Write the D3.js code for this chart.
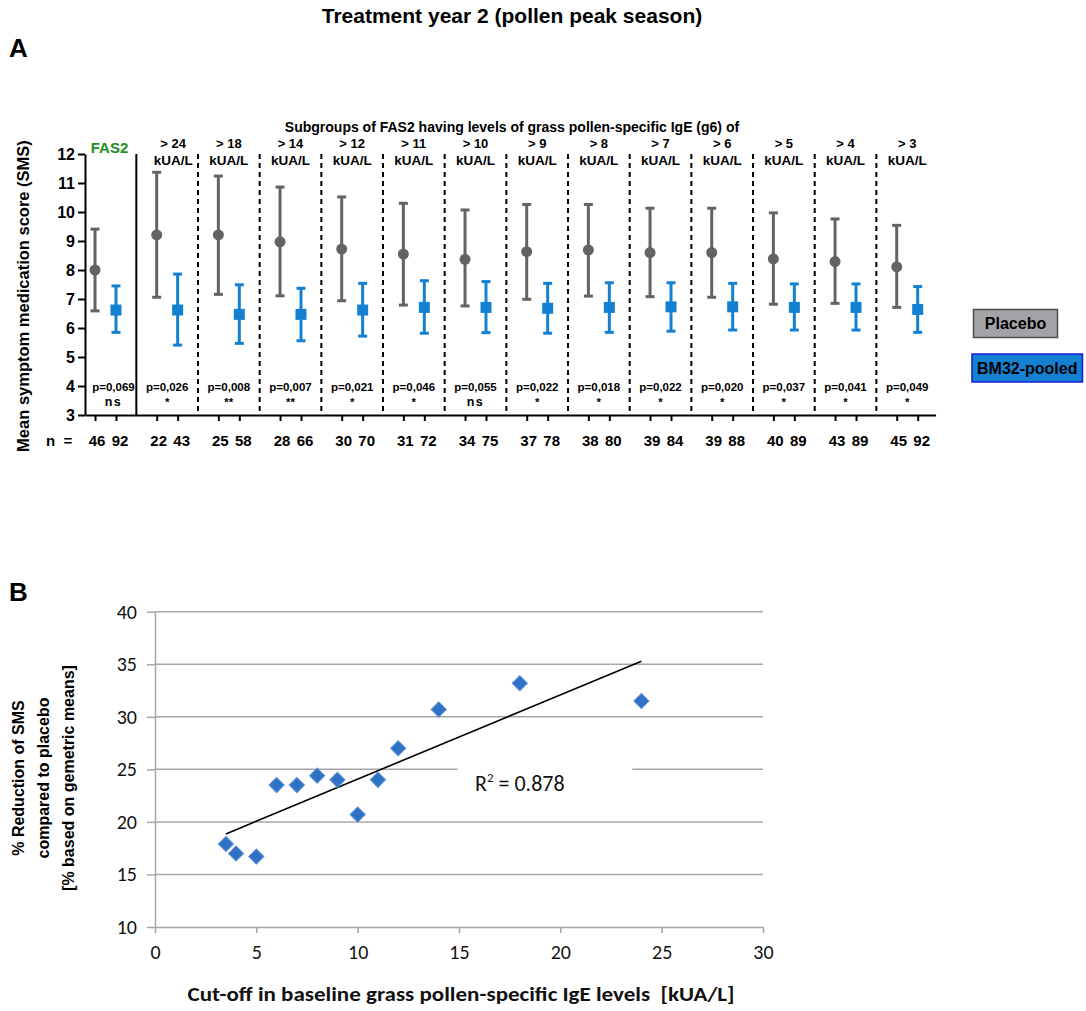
<!DOCTYPE html>
<html><head><meta charset="utf-8">
<script src="https://cdn.jsdelivr.net/npm/d3@7"></script>
<style>
body{margin:0;background:#fff;}
svg text{font-family:"Liberation Sans",Arial,sans-serif;}
.cal{font-family:Carlito,Calibri,Lato,"Open Sans",sans-serif !important;}
</style></head>
<body>
<svg id="c" width="1086" height="1011"></svg>
<script>
// ---------- Panel A data ----------
const groups = ["FAS2","> 24","> 18","> 14","> 12","> 11","> 10","> 9","> 8","> 7","> 6","> 5","> 4","> 3"];
const placeboMean = [8.00,9.21,9.21,8.97,8.72,8.55,8.37,8.63,8.69,8.60,8.60,8.38,8.29,8.11];
const placeboHigh = [9.41,11.37,11.24,10.86,10.52,10.30,10.07,10.26,10.26,10.13,10.13,9.97,9.76,9.54];
const placeboLow  = [6.59,7.06,7.16,7.11,6.94,6.79,6.76,6.99,7.10,7.08,7.06,6.82,6.85,6.71];
const bmMean = [6.62,6.62,6.47,6.47,6.62,6.71,6.71,6.68,6.71,6.73,6.73,6.71,6.71,6.64];
const bmHigh = [7.45,7.86,7.49,7.37,7.54,7.63,7.60,7.54,7.56,7.56,7.54,7.52,7.52,7.43];
const bmLow  = [5.85,5.41,5.47,5.56,5.72,5.82,5.84,5.82,5.85,5.89,5.93,5.93,5.93,5.85];
const pValues = ["p=0,069","p=0,026","p=0,008","p=0,007","p=0,021","p=0,046","p=0,055","p=0,022","p=0,018","p=0,022","p=0,020","p=0,037","p=0,041","p=0,049"];
const signif = ["ns","*","**","**","*","*","ns","*","*","*","*","*","*","*"];
const nPlacebo = [46,22,25,28,30,31,34,37,38,39,39,40,43,45];
const nBM = [92,43,58,66,70,72,75,78,80,84,88,89,89,92];
const yTicksA = [3,4,5,6,7,8,9,10,11,12];
const legendLabels = ["Placebo","BM32-pooled"];

// ---------- Panel B data ----------
const cutoff = [3.5,4,5,6,7,8,9,10,11,12,14,18,24];
const reduction = [17.9,17.0,16.7,23.5,23.5,24.4,24.0,20.7,24.0,27.0,30.7,33.2,31.5];
const xTicksB = [0,5,10,15,20,25,30];
const yTicksB = [10,15,20,25,30,35,40];

const GRAY = "#636363", BLUE = "#1380d2";
const svg = d3.select("#c");

// Title & panel letters
svg.append("text").attr("x",512).attr("y",23).attr("text-anchor","middle")
  .attr("font-size",21).attr("font-weight","bold").text("Treatment year 2 (pollen peak season)");
svg.append("text").attr("x",9).attr("y",57).attr("font-size",26).attr("font-weight","bold").text("A");
svg.append("text").attr("x",9).attr("y",601).attr("font-size",26).attr("font-weight","bold").text("B");

// ---------- Panel A ----------
const xA = d3.scaleLinear().domain([0,13]).range([105.5,907.2]);
const yA = d3.scaleLinear().domain([3,12]).range([415,154]);
const off = 0.17;
const gA = svg.append("g");

// y axis
const yAx = gA.append("g").attr("transform","translate(85,0)")
  .call(d3.axisLeft(yA).tickValues(yTicksA).tickSize(7).tickSizeOuter(0).tickPadding(3));
yAx.selectAll("path,line").attr("stroke","#000").attr("stroke-width",2);
yAx.selectAll("text").attr("font-size",16).attr("font-weight","bold").attr("fill","#000")
  .attr("font-family","Liberation Sans, Arial, sans-serif");

// x axis
const xAxScale = d3.scaleLinear().domain([-0.33,13.46]).range([xA(-0.33),xA(13.46)]);
const tickPos = [];
groups.forEach((g,i)=>{tickPos.push(i-off); tickPos.push(i+off);});
const xAx = gA.append("g").attr("transform","translate(0,415)")
  .call(d3.axisBottom(xAxScale).tickValues(tickPos).tickSize(6).tickSizeOuter(0).tickFormat(""));
xAx.selectAll("path,line").attr("stroke","#000").attr("stroke-width",2);

// separators
gA.selectAll(".sep").data(groups.slice(0,-1)).join("line")
  .attr("x1",(d,i)=>xA(i+0.5)).attr("x2",(d,i)=>xA(i+0.5))
  .attr("y1",yA(12)).attr("y2",yA(3))
  .attr("stroke","#000").attr("stroke-width",2)
  .attr("stroke-dasharray",(d,i)=>i===0?null:"5,4");

// y label
gA.append("text").attr("transform","translate(29,296) rotate(-90)").attr("text-anchor","middle")
  .attr("font-size",16.5).attr("font-weight","bold").text("Mean symptom medication score (SMS)");

// subgroup header
gA.append("text").attr("x",512).attr("y",132).attr("text-anchor","middle")
  .attr("font-size",14).attr("font-weight","bold").text("Subgroups of FAS2 having levels of grass pollen-specific IgE (g6) of");
groups.forEach((g,i)=>{
  if(i===0){
    gA.append("text").attr("x",xA(i)+4).attr("y",153).attr("text-anchor","middle")
      .attr("font-size",15).attr("font-weight","bold").attr("fill","#1e8c1e").text(g);
  } else {
    const cx = xA(i)+(i===1?6:0);
    gA.append("text").attr("x",cx).attr("y",148).attr("text-anchor","middle")
      .attr("font-size",13).attr("font-weight","bold").text(g);
    gA.append("text").attr("x",cx).attr("y",164.5).attr("text-anchor","middle")
      .attr("font-size",13.5).attr("font-weight","bold").text("kUA/L");
  }
});

// error bars
function errbar(x, lo, hi, col){
  gA.append("line").attr("x1",x).attr("x2",x).attr("y1",yA(lo)).attr("y2",yA(hi))
    .attr("stroke",col).attr("stroke-width",3);
  [lo,hi].forEach(v=>gA.append("line").attr("x1",x-4.5).attr("x2",x+4.5).attr("y1",yA(v)).attr("y2",yA(v))
    .attr("stroke",col).attr("stroke-width",3));
}
groups.forEach((g,i)=>{
  errbar(xA(i-off), placeboLow[i], placeboHigh[i], GRAY);
  errbar(xA(i+off), bmLow[i], bmHigh[i], BLUE);
});
gA.selectAll(".pm").data(placeboMean).join("circle")
  .attr("cx",(d,i)=>xA(i-off)).attr("cy",d=>yA(d)).attr("r",5.5).attr("fill",GRAY);
gA.selectAll(".bm").data(bmMean).join("rect")
  .attr("x",(d,i)=>xA(i+off)-5.5).attr("y",d=>yA(d)-5.5).attr("width",11).attr("height",11).attr("fill",BLUE);

// p-values
gA.selectAll(".pv").data(pValues).join("text")
  .attr("x",(d,i)=>xA(i)+(i===0?8:0)).attr("y",391).attr("text-anchor","middle")
  .attr("font-size",11.5).attr("font-weight","bold").text(d=>d);
gA.selectAll(".sg").data(signif).join("text")
  .attr("x",(d,i)=>xA(i)+(i===0?8:0)).attr("y",406).attr("text-anchor","middle")
  .attr("font-size",(d)=>d==="ns"?12.5:11.5).attr("font-weight","bold")
  .attr("letter-spacing",(d)=>d==="ns"?1.5:0).text(d=>d);

// n row
gA.append("text").attr("x",46).attr("y",446).attr("font-size",15).attr("font-weight","bold")
  .attr("xml:space","preserve").text("n\u00a0 =");
gA.selectAll(".np").data(nPlacebo).join("text")
  .attr("x",(d,i)=>xA(i-off)+2).attr("y",446).attr("text-anchor","middle")
  .attr("font-size",15).attr("font-weight","bold").text(d=>d);
gA.selectAll(".nb").data(nBM).join("text")
  .attr("x",(d,i)=>xA(i+off)+4).attr("y",446).attr("text-anchor","middle")
  .attr("font-size",15).attr("font-weight","bold").text(d=>d);

// legend
const leg = [{x:973.5,y:309.5,w:84,h:28,fill:"#a3a3a7",stroke:"#4a4a4a"},
             {x:972,y:354,w:110.5,h:28,fill:"#1380d2",stroke:"#1a1ad8"}];
leg.forEach((l,i)=>{
  svg.append("rect").attr("x",l.x).attr("y",l.y).attr("width",l.w).attr("height",l.h)
    .attr("fill",l.fill).attr("stroke",l.stroke).attr("stroke-width",1.5);
  svg.append("text").attr("x",l.x+l.w/2).attr("y",l.y+l.h/2+5.5).attr("text-anchor","middle")
    .attr("font-size",16).attr("font-weight","bold").text(legendLabels[i]);
});

// ---------- Panel B ----------
const xB = d3.scaleLinear().domain([0,30]).range([155,763]);
const yB = d3.scaleLinear().domain([10,40]).range([927,611.7]);
const gB = svg.append("g");
const GRID = "#a6a6a6";

gB.selectAll(".grid").data(yTicksB.slice(1)).join("line")
  .attr("x1",xB(0)).attr("x2",xB(30)).attr("y1",d=>yB(d)).attr("y2",d=>yB(d))
  .attr("stroke",GRID).attr("stroke-width",1.5);

const yBx = gB.append("g").attr("transform",`translate(${xB(0)},0)`)
  .call(d3.axisLeft(yB).tickValues(yTicksB).tickSize(8).tickSizeOuter(0).tickPadding(10));
yBx.selectAll("path,line").attr("stroke",GRID).attr("stroke-width",1.5);
yBx.selectAll("text").attr("class","cal").attr("font-size",20).attr("fill","#111");

const xBx = gB.append("g").attr("transform",`translate(0,${yB(10)})`)
  .call(d3.axisBottom(xB).tickValues(xTicksB).tickSize(6).tickSizeOuter(0).tickPadding(12));
xBx.selectAll("path,line").attr("stroke",GRID).attr("stroke-width",1.5);
xBx.selectAll("text").attr("class","cal").attr("font-size",20).attr("fill","#111");

// regression line
const mx = d3.mean(cutoff), my = d3.mean(reduction);
const slope = d3.sum(cutoff.map((x,i)=>(x-mx)*(reduction[i]-my))) / d3.sum(cutoff.map(x=>(x-mx)*(x-mx)));
const icpt = my - slope*mx;
const xr = d3.extent(cutoff);
gB.append("line").attr("x1",xB(xr[0])).attr("y1",yB(icpt+slope*xr[0]))
  .attr("x2",xB(xr[1])).attr("y2",yB(icpt+slope*xr[1])).attr("stroke","#000").attr("stroke-width",1.6);

// R2 label
gB.append("rect").attr("x",457.7).attr("y",758).attr("width",174.6).attr("height",45).attr("fill","#fff");
const r2 = gB.append("text").attr("class","cal").attr("x",475).attr("y",791).attr("font-size",22).attr("fill","#111");
r2.append("tspan").text("R");
r2.append("tspan").attr("font-size",13).attr("dy",-9).text("2");
r2.append("tspan").attr("dy",9).text(" = 0.878");

// diamonds
gB.selectAll(".dm").data(cutoff).join("path")
  .attr("d",d3.symbol(d3.symbolSquare,115))
  .attr("transform",(d,i)=>`translate(${xB(d)},${yB(reduction[i])}) rotate(45)`)
  .attr("fill","#2f72c4").attr("stroke","#5b8fd6").attr("stroke-width",1);

// axis titles
const yl = gB.append("text").attr("transform","translate(0,778) rotate(-90)").attr("text-anchor","middle")
  .attr("font-size",16).attr("font-weight","bold");
yl.append("tspan").attr("x",0).attr("y",24).text("% Reduction of SMS");
yl.append("tspan").attr("x",0).attr("y",49).text("compared to placebo");
yl.append("tspan").attr("x",0).attr("y",74).text("[% based on gemetric means]");

gB.append("text").attr("class","cal").attr("x",461).attr("y",1001).attr("text-anchor","middle")
  .attr("font-size",21).attr("font-weight","bold").attr("fill","#111")
  .attr("textLength",547).attr("lengthAdjust","spacingAndGlyphs")
  .text("Cut-off in baseline grass pollen-specific IgE levels\u00a0 [kUA/L]");
</script>
</body></html>
